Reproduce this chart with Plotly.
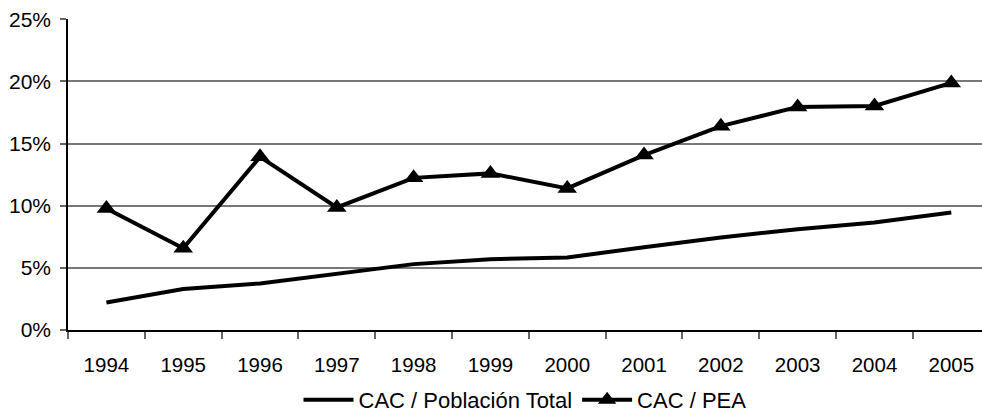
import plotly.graph_objects as go

years = ["1994", "1995", "1996", "1997", "1998", "1999",
         "2000", "2001", "2002", "2003", "2004", "2005"]
cac_poblacion = [0.0222, 0.0330, 0.0375, 0.0450, 0.0530, 0.0570,
                 0.0584, 0.0665, 0.0745, 0.0810, 0.0865, 0.0946]
cac_pea = [0.0978, 0.0657, 0.1393, 0.0986, 0.1224, 0.1260,
           0.1139, 0.1407, 0.1640, 0.1795, 0.1803, 0.1988]
y_ticks = [0, 0.05, 0.10, 0.15, 0.20, 0.25]

FONT = "Liberation Sans, Arial, sans-serif"

fig = go.Figure()
fig.add_trace(go.Scatter(
    x=years, y=cac_poblacion, mode="lines", name="CAC / Población Total",
    line=dict(color="black", width=4),
))
fig.add_trace(go.Scatter(
    x=years, y=cac_pea, mode="lines+markers", name="CAC / PEA",
    line=dict(color="black", width=4),
    marker=dict(symbol="triangle-up", size=17, color="black"),
))

fig.update_layout(
    width=982, height=415,
    margin=dict(l=68, r=0, t=19, b=85, autoexpand=False),
    paper_bgcolor="white", plot_bgcolor="white",
    font=dict(family=FONT, size=21, color="black"),
    showlegend=True,
    legend=dict(
        orientation="h", x=0.5, xanchor="center",
        yref="container", y=0.036, yanchor="middle",
        font=dict(family=FONT, size=22, color="black"),
        itemwidth=50, bgcolor="rgba(0,0,0,0)", tracegroupgap=0,
    ),
)
fig.update_xaxes(
    type="category", range=[-0.5, 11.4], automargin=False,
    showline=True, linecolor="black", linewidth=1.5,
    ticks="outside", tickson="boundaries", ticklen=7, tickcolor="#666", tickwidth=1.5,
    showgrid=False, tickfont=dict(family=FONT, size=20.5), ticklabelstandoff=16,
)
fig.update_yaxes(
    range=[0, 0.2502], tickvals=y_ticks, tickformat=".0%", automargin=False,
    showline=True, linecolor="black", linewidth=1.5,
    ticks="outside", ticklen=6, tickcolor="#666", tickwidth=1.5,
    showgrid=True, gridcolor="#777", gridwidth=1.5, zeroline=False,
    tickfont=dict(family=FONT, size=21), ticklabelstandoff=5,
)

fig.write_html("out.html")
